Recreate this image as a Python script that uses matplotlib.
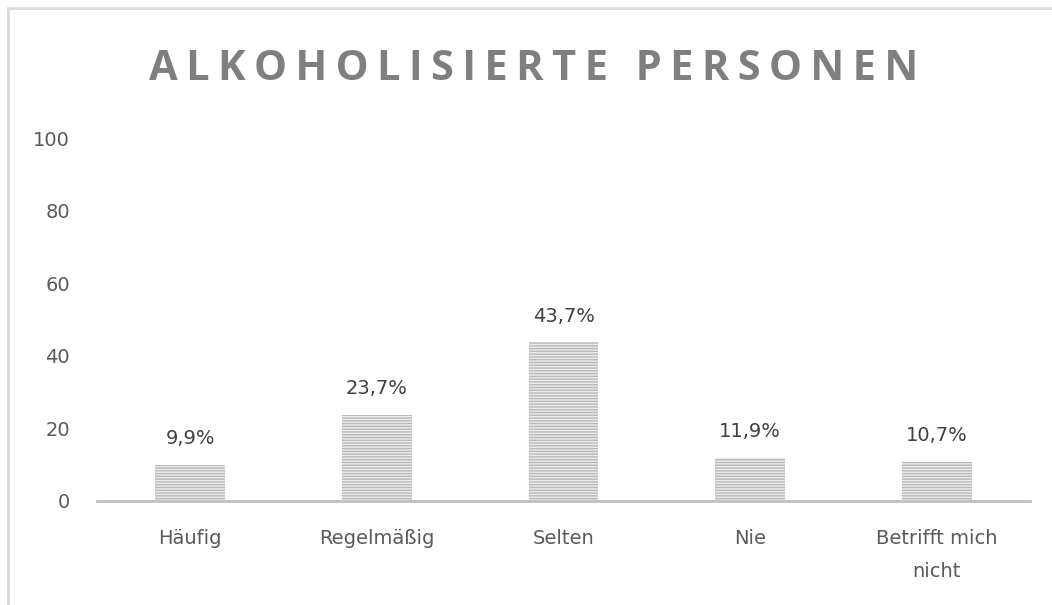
import matplotlib
matplotlib.use("Agg")
import matplotlib.pyplot as plt
from matplotlib.patches import Rectangle

categories = ["Häufig", "Regelmäßig", "Selten", "Nie", "Betrifft mich\nnicht"]
values = [9.9, 23.7, 43.7, 11.9, 10.7]
value_labels = ["9,9%", "23,7%", "43,7%", "11,9%", "10,7%"]
yticks = [0, 20, 40, 60, 80, 100]
title = "ALKOHOLISIERTE PERSONEN"

plt.rcParams['font.family'] = ['DejaVu Sans']
plt.rcParams['hatch.linewidth'] = 1.0
plt.rcParams['hatch.color'] = '#b8b8b8'

fig = plt.figure(figsize=(10.52, 6.05), dpi=100)
ax = fig.add_axes([97/1052, 1-501/605, (1030-97)/1052, (501-138)/605])

x = list(range(len(categories)))
ax.bar(x, values, width=0.375, color='#ececec', edgecolor='#b8b8b8',
       hatch='------', linewidth=0)
for xi, v, lab in zip(x, values, value_labels):
    ax.annotate(lab, (xi, v), xytext=(0, 12), textcoords='offset points',
                ha='center', va='bottom', fontsize=14, color='#404040')

ax.set_xlim(-0.5, len(categories) - 0.5)
ax.set_ylim(0, 100)
ax.set_yticks(yticks)
ax.set_yticklabels([str(t) for t in yticks], fontsize=14, color='#595959')
ax.set_xticks(x)
ax.set_xticklabels(categories, fontsize=14, color='#595959', linespacing=1.95, va='top')
ax.tick_params(axis='both', length=0)
ax.tick_params(axis='x', pad=20)
ax.tick_params(axis='y', pad=19.5)
for s in ['top', 'right', 'left']:
    ax.spines[s].set_visible(False)
ax.spines['bottom'].set_color('#bfbfbf')
ax.spines['bottom'].set_linewidth(2)

fig.text(534/1052, 1-70/605, '\u2009'.join(title), ha='center', va='center',
         fontsize=30, fontweight='bold', color='#7f7f7f',
         family=['Open Sans', 'DejaVu Sans'])

fig.patches.append(Rectangle((8/1052, -0.05), 1.1, 1-8/605+0.05,
                             transform=fig.transFigure, fill=False,
                             edgecolor='#d9d9d9', linewidth=2))

fig.savefig('out.png', dpi=100)
